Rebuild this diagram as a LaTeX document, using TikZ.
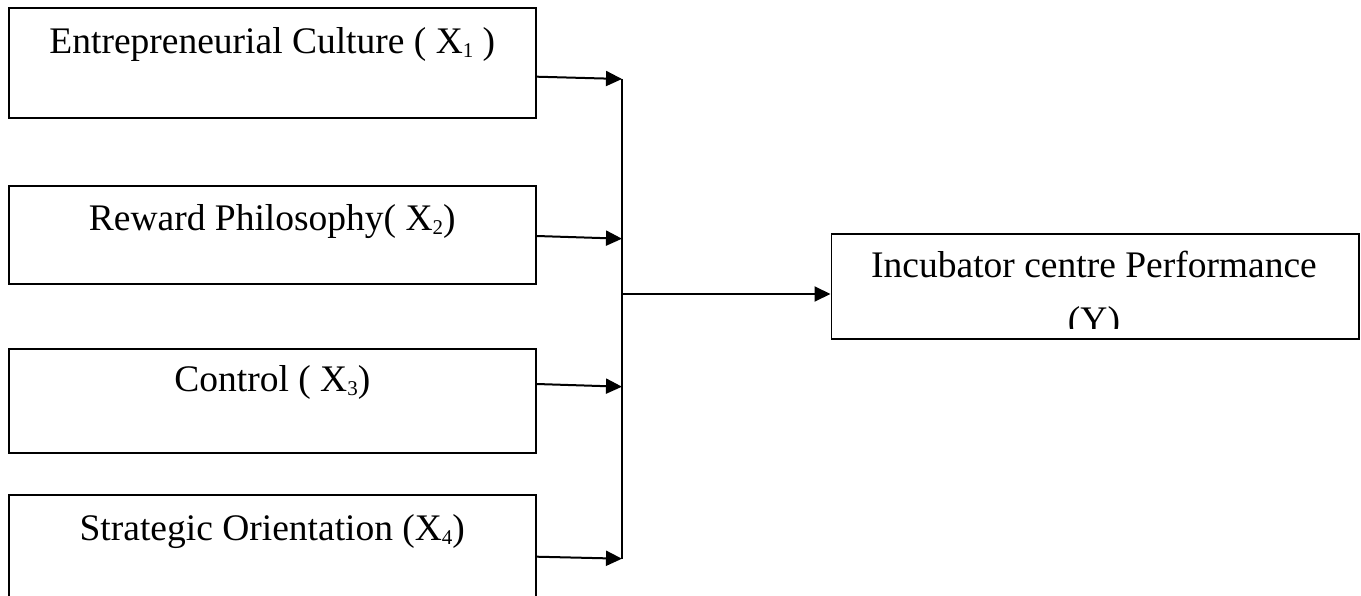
\documentclass[tikz,border=0pt]{standalone}
\usepackage{fontspec}
\setmainfont{Liberation Serif}
\usetikzlibrary{arrows.meta}
\newcommand\sbx[1]{\raisebox{-4pt}{\fontsize{21}{21}\selectfont #1}}
\tikzset{
  box/.style={draw=black, line width=1.6pt, rectangle, inner sep=0pt, minimum width=527pt,
              anchor=north west, font=\fontsize{37.5}{44}\selectfont},
  txt/.style={inner sep=0pt, font=\fontsize{37.5}{44}\selectfont},
  arr/.style={draw=black, line width=2pt, -{Triangle[length=16pt,width=15pt]}},
  ln/.style={draw=black, line width=1.8pt}
}
\begin{document}
\begin{tikzpicture}[x=1pt,y=-1pt]
\useasboundingbox (0,0) rectangle (1361,596);
\fill[white] (0,0) rectangle (1361,596);
\clip (0,0) rectangle (1361,596);

\node[box, text height=46pt, text depth=64pt] (b1) at (8,7) {Entrepreneurial Culture ( X\sbx{1} )};
\node[box, text height=45pt, text depth=53pt] (b2) at (8,185) {Reward Philosophy( X\sbx{2})};
\node[box, text height=43pt, text depth=61pt] (b3) at (8,348) {Control ( X\sbx{3})};
\node[box, text height=46pt, text depth=64pt] (b4) at (8,494) {Strategic Orientation (X\sbx{4})};

\node[box, minimum width=527.5pt, minimum height=105pt] (y) at (830.5,233) {};
\begin{scope}
  \clip (830.5,233) rectangle (1358,328);
  \node[txt, anchor=base] (y1) at (1094,278) {Incubator centre Performance};
  \node[txt, anchor=base] (y2) at (1094,332.5) {(Y)};
\end{scope}

\coordinate (j1) at (622,79);
\coordinate (j2) at (622,238.7);
\coordinate (j3) at (622,386.7);
\coordinate (j4) at (622,558.7);
\coordinate (jm) at (622,294);

\draw[ln] (j1) -- (j4);
\draw[arr] ([yshift=-69.7pt]b1.north east) -- (j1);
\draw[arr] ([yshift=-51pt]b2.north east) -- (j2);
\draw[arr] ([yshift=-36pt]b3.north east) -- (j3);
\draw[arr] ([yshift=-62.7pt]b4.north east) -- (j4);
\draw[arr] (jm) -- ([yshift=-61pt]y.north west);
\end{tikzpicture}
\end{document}
